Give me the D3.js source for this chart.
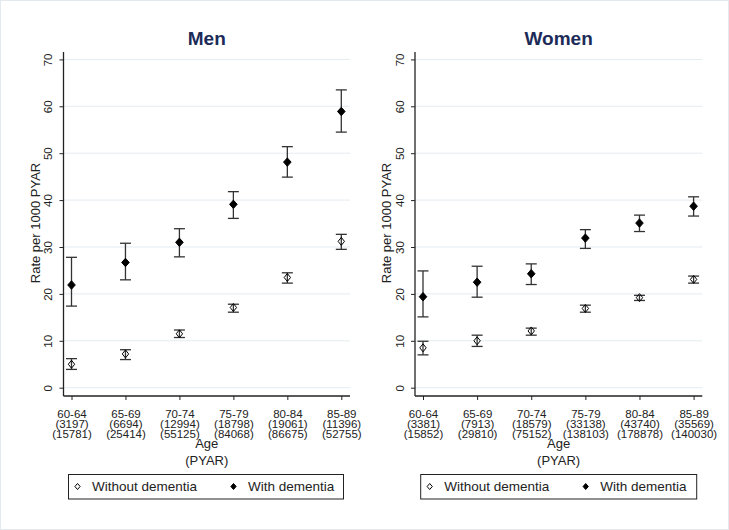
<!DOCTYPE html>
<html><head><meta charset="utf-8">
<script src="https://cdn.jsdelivr.net/npm/d3@7"></script>
<style>body{margin:0;background:#fff;} text{font-family:Arial,"Liberation Sans",sans-serif;}</style>
</head><body><svg id="c" width="729" height="530"></svg>
<script>
const ages = ["60-64","65-69","70-74","75-79","80-84","85-89"];
const yTicks = [0,10,20,30,40,50,60,70];
const legendLabels = ["Without dementia","With dementia"];

// Men
const menPyarWith = [3197,6694,12994,18798,19061,11396];
const menPyarWithout = [15781,25414,55125,84068,86675,52755];
const menWithout = [5.0,7.2,11.5,17.1,23.5,31.2];
const menWithoutLo = [3.9,6.0,10.7,16.1,22.3,29.5];
const menWithoutHi = [6.2,8.1,12.3,17.8,24.5,32.7];
const menWith = [21.9,26.7,31.0,39.1,48.1,58.9];
const menWithLo = [17.4,23.0,27.9,36.1,44.9,54.5];
const menWithHi = [27.8,30.8,33.9,41.8,51.4,63.5];

// Women
const womenPyarWith = [3381,7913,18579,33138,43740,35569];
const womenPyarWithout = [15852,29810,75152,138103,178878,140030];
const womenWithout = [8.5,10.0,12.1,16.9,19.2,23.1];
const womenWithoutLo = [7.0,8.8,11.2,16.1,18.6,22.3];
const womenWithoutHi = [9.9,11.2,12.7,17.6,19.7,23.8];
const womenWith = [19.4,22.5,24.3,31.9,35.1,38.7];
const womenWithLo = [15.1,19.3,22.0,29.7,33.3,36.6];
const womenWithHi = [24.9,25.9,26.4,33.7,36.8,40.7];

const svg = d3.select("#c");
svg.append("rect").attr("x",0.5).attr("y",0.5).attr("width",728).attr("height",529)
  .attr("fill","#fff").attr("stroke","#e3e9ec");

const panels = [
  {title:"Men", left:63.5, right:350, pw:menPyarWith, pwo:menPyarWithout,
   wo:menWithout, woLo:menWithoutLo, woHi:menWithoutHi, w:menWith, wLo:menWithLo, wHi:menWithHi,
   legL:68.5, legR:343.5},
  {title:"Women", left:415, right:702.3, pw:womenPyarWith, pwo:womenPyarWithout,
   wo:womenWithout, woLo:womenWithoutLo, woHi:womenWithoutHi, w:womenWith, wLo:womenWithLo, wHi:womenWithHi,
   legL:420.7, legR:696.7}
];
const plotTop = 52, plotBottom = 396;
const y = d3.scaleLinear().domain([-1.77, 71.58]).range([plotBottom, plotTop]);
const diamondType = (hw, hh) => ({draw(ctx){ ctx.moveTo(0,-hh); ctx.lineTo(hw,0); ctx.lineTo(0,hh); ctx.lineTo(-hw,0); ctx.closePath(); }});
const diamond = (hw, hh) => d3.symbol().type(diamondType(hw, hh))();

panels.forEach(p => {
  const g = svg.append("g");
  const x = d3.scalePoint().domain(ages).range([p.left + 8, p.right - 8.7]);
  const cx = (p.left + p.right) / 2;

  g.append("text").attr("x", cx).attr("y", 45).attr("text-anchor","middle")
    .attr("font-size", 19).attr("font-weight","bold").attr("fill","#1c2b58").text(p.title);

  g.selectAll(".grid").data(yTicks).join("line")
    .attr("x1", p.left).attr("x2", p.right)
    .attr("y1", d => y(d)).attr("y2", d => y(d))
    .attr("stroke","#e4ebef").attr("stroke-width",1);

  const ya = g.append("g").attr("transform",`translate(${p.left},0)`)
    .call(d3.axisLeft(y).tickValues(yTicks).tickSize(4).tickSizeOuter(0));
  ya.select(".domain").remove();
  ya.append("line").attr("x1",0).attr("x2",0).attr("y1",plotTop).attr("y2",plotBottom).attr("stroke","#222").attr("stroke-width",1.3);
  ya.selectAll(".tick line").attr("stroke","#222");
  ya.selectAll(".tick text").attr("x",null).attr("dy",null)
    .attr("transform","translate(-11.5,0) rotate(-90)").attr("text-anchor","middle")
    .attr("font-size",11.5).attr("fill","#222");

  const xa = g.append("g").attr("transform",`translate(0,${plotBottom})`)
    .call(d3.axisBottom(x).tickSize(4).tickSizeOuter(0));
  xa.select(".domain").remove();
  xa.append("line").attr("x1",p.left).attr("x2",p.right).attr("y1",0).attr("y2",0).attr("stroke","#222").attr("stroke-width",1.3);
  xa.selectAll(".tick line").attr("stroke","#222");
  xa.selectAll(".tick text").each(function(d, i) {
    const t = d3.select(this);
    t.text(null).attr("y", null).attr("dy", null).attr("font-size", 11.5).attr("fill","#222");
    [d, `(${p.pw[i]})`, `(${p.pwo[i]})`].forEach((s, k) => {
      t.append("tspan").attr("x", 0).attr("y", 21.5 + k * 10).text(s);
    });
  });

  g.append("text").attr("transform",`translate(${p.left - 24},${(plotTop+plotBottom)/2 - 1}) rotate(-90)`)
    .attr("text-anchor","middle").attr("font-size",13).attr("fill","#222").text("Rate per 1000 PYAR");
  g.append("text").attr("x", cx).attr("y", 448).attr("text-anchor","middle")
    .attr("font-size",13).attr("fill","#222").text("Age");
  g.append("text").attr("x", cx).attr("y", 465).attr("text-anchor","middle")
    .attr("font-size",13).attr("fill","#222").text("(PYAR)");

  const series = [
    {v:p.wo, lo:p.woLo, hi:p.woHi, fill:"none", d:diamond(3.2,4)},
    {v:p.w, lo:p.wLo, hi:p.wHi, fill:"#000", d:diamond(3.8,4.2)}
  ];
  series.forEach(s => {
    const eg = g.append("g");
    ages.forEach((a, i) => {
      const xx = x(a);
      eg.append("line").attr("x1",xx).attr("x2",xx).attr("y1",y(s.lo[i])).attr("y2",y(s.hi[i]))
        .attr("stroke","#333").attr("stroke-width",1.3);
      [s.lo[i], s.hi[i]].forEach(v => {
        eg.append("line").attr("x1",xx-5.5).attr("x2",xx+5.5).attr("y1",y(v)).attr("y2",y(v))
          .attr("stroke","#333").attr("stroke-width",1.3);
      });
    });
    eg.selectAll("path").data(ages).join("path")
      .attr("d", s.d)
      .attr("transform", (a, i) => `translate(${x(a)},${y(s.v[i])})`)
      .attr("fill", s.fill).attr("stroke","#000").attr("stroke-width",1);
  });

  const lg = g.append("g");
  lg.append("rect").attr("x",p.legL).attr("y",474.5).attr("width",p.legR-p.legL).attr("height",24.5)
    .attr("fill","#fff").attr("stroke","#222").attr("stroke-width",1);
  const lx = [p.legL + 9, p.legL + 165];
  legendLabels.forEach((lab, k) => {
    lg.append("path").attr("d", diamond(2.6,3)).attr("transform",`translate(${lx[k]},${486.5})`)
      .attr("fill", k ? "#000" : "none").attr("stroke","#000").attr("stroke-width",1);
    lg.append("text").attr("x", lx[k] + 14.5).attr("y", 491).attr("font-size",13.5).attr("fill","#222").text(lab);
  });
});
</script></body></html>
